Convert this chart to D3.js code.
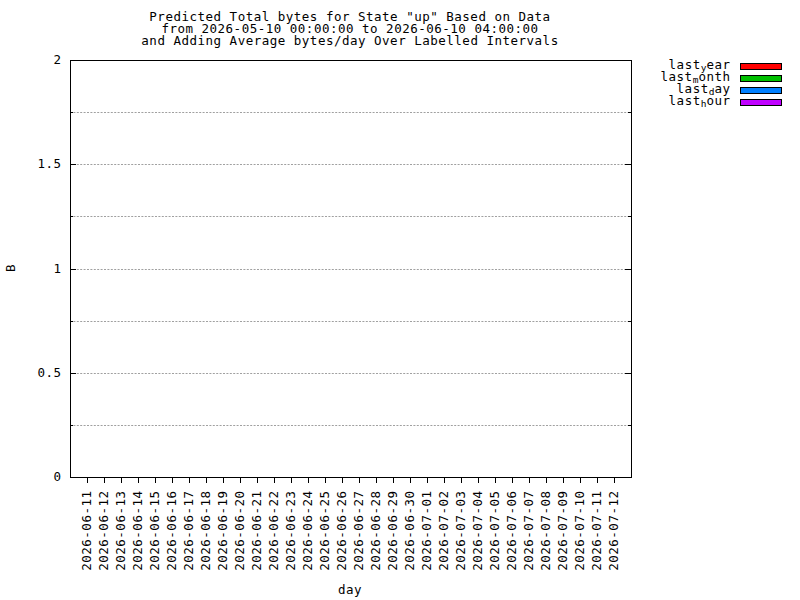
<!DOCTYPE html>
<html>
<head>
<meta charset="utf-8">
<script src="https://cdn.jsdelivr.net/npm/d3@7"></script>
<style>
  body { margin: 0; background: #fff; }
  svg text { font-family: "DejaVu Sans Mono", "Liberation Mono", monospace; font-size: 12.5px; letter-spacing: 0.5px; fill: #000; }
</style>
</head>
<body>
<svg id="chart" width="800" height="600"></svg>
<script>
// ---- data ----
const titleLines = [
  'Predicted Total bytes for State "up" Based on Data',
  'from 2026-05-10 00:00:00 to 2026-06-10 04:00:00',
  'and Adding Average bytes/day Over Labelled Intervals'
];
const xAxisLabel = "day";
const yAxisLabel = "B";
const xDomain = ["2026-06-10", "2026-07-13"];
const dayTicks = [
  "2026-06-11", "2026-06-12", "2026-06-13", "2026-06-14", "2026-06-15", "2026-06-16",
  "2026-06-17", "2026-06-18", "2026-06-19", "2026-06-20", "2026-06-21", "2026-06-22",
  "2026-06-23", "2026-06-24", "2026-06-25", "2026-06-26", "2026-06-27", "2026-06-28",
  "2026-06-29", "2026-06-30", "2026-07-01", "2026-07-02", "2026-07-03", "2026-07-04",
  "2026-07-05", "2026-07-06", "2026-07-07", "2026-07-08", "2026-07-09", "2026-07-10",
  "2026-07-11", "2026-07-12"
];
const yDomain = [0, 2];
const yMajorTicks = [0, 0.5, 1, 1.5, 2];
const yMinorTicks = [0.25, 0.75, 1.25, 1.75];
const yTickLabels = ["0", "0.5", "1", "1.5", "2"];
// legend entries: [prefix, subscript, suffix]
const seriesNames = [
  ["last", "y", "ear"],
  ["last", "m", "onth"],
  ["last", "d", "ay"],
  ["last", "h", "our"]
];
const seriesColors = ["#ff0000", "#00c000", "#0080ff", "#c000ff"];
// series values (no data points visible in the chart)
const lastYear = [];
const lastMonth = [];
const lastDay = [];
const lastHour = [];

(function () {
// ---- layout ----
const svg = d3.select("#chart");
const pl = 70, pr = 631, pt = 60, pb = 477;
const parse = d3.utcParse("%Y-%m-%d");

const x = d3.scaleUtc().domain(xDomain.map(parse)).range([pl, pr]);
const y = d3.scaleLinear().domain(yDomain).range([pb, pt]);

// grid lines (every 0.25, interior)
const gridVals = yMajorTicks.concat(yMinorTicks).filter(v => v > yDomain[0] && v < yDomain[1]);
svg.append("g").selectAll("line").data(gridVals).join("line")
  .attr("x1", pl).attr("x2", pr)
  .attr("y1", d => Math.round(y(d)) + 0.5).attr("y2", d => Math.round(y(d)) + 0.5)
  .attr("stroke", "#a0a0a0").attr("stroke-width", 1)
  .attr("stroke-dasharray", "2,1.4");

// series bars (none visible)
const allSeries = [lastYear, lastMonth, lastDay, lastHour];
allSeries.forEach((s, i) => {
  svg.append("g").selectAll("rect").data(s).join("rect")
    .attr("x", d => x(parse(d.day)) - 3).attr("width", 6)
    .attr("y", d => y(d.value)).attr("height", d => y(0) - y(d.value))
    .attr("fill", seriesColors[i]);
});

// y ticks left & right (inward)
const tickG = svg.append("g").attr("stroke", "#000").attr("stroke-width", 1).attr("shape-rendering", "crispEdges");
const yTickData = yMajorTicks.map(v => ({v, len: 6})).concat(yMinorTicks.map(v => ({v, len: 3})));
tickG.selectAll("line.yl").data(yTickData).join("line").attr("class", "yl")
  .attr("x1", pl).attr("x2", d => pl + d.len)
  .attr("y1", d => Math.round(y(d.v)) + 0.5).attr("y2", d => Math.round(y(d.v)) + 0.5);
tickG.selectAll("line.yr").data(yTickData).join("line").attr("class", "yr")
  .attr("x1", pr).attr("x2", d => pr - d.len)
  .attr("y1", d => Math.round(y(d.v)) + 0.5).attr("y2", d => Math.round(y(d.v)) + 0.5);

// x ticks (outward, below)
tickG.selectAll("line.xb").data(dayTicks).join("line").attr("class", "xb")
  .attr("x1", d => Math.round(x(parse(d))) + 0.5).attr("x2", d => Math.round(x(parse(d))) + 0.5)
  .attr("y1", pb).attr("y2", pb + 6);

// border
svg.append("rect")
  .attr("x", pl + 0.5).attr("y", pt + 0.5)
  .attr("width", pr - pl).attr("height", pb - pt)
  .attr("fill", "none").attr("stroke", "#000").attr("stroke-width", 1)
  .attr("shape-rendering", "crispEdges");

// y tick labels
svg.append("g").selectAll("text").data(yMajorTicks).join("text")
  .attr("x", 61.5).attr("y", d => y(d) + 4)
  .attr("text-anchor", "end")
  .text((d, i) => yTickLabels[i]);

// x tick labels (rotated)
svg.append("g").selectAll("text").data(dayTicks).join("text")
  .attr("transform", d => `translate(${Math.round(x(parse(d))) + 4},490.5) rotate(-90)`)
  .attr("text-anchor", "end")
  .text(d => d);

// title
svg.append("g").selectAll("text").data(titleLines).join("text")
  .attr("x", 350).attr("y", (d, i) => 21 + i * 12)
  .attr("text-anchor", "middle")
  .text(d => d);

// axis labels
svg.append("text").attr("x", 350).attr("y", 594).attr("text-anchor", "middle").text(xAxisLabel);
svg.append("text").attr("transform", "translate(15,268) rotate(-90)").attr("text-anchor", "middle").text(yAxisLabel);

// legend
const lg = svg.append("g");
seriesNames.forEach((n, i) => {
  const yy = 63 + i * 12;
  const t = lg.append("text").attr("x", 730.5).attr("y", yy + 5.5).attr("text-anchor", "end");
  t.append("tspan").text(n[0]);
  t.append("tspan").attr("dy", 2.5).style("font-size", "9.5px").style("letter-spacing", "0px").text(n[1]);
  t.append("tspan").attr("dy", -2.5).text(n[2]);
  lg.append("rect")
    .attr("x", 740.5).attr("y", yy + 0.5).attr("width", 41).attr("height", 6)
    .attr("fill", seriesColors[i]).attr("stroke", "#000").attr("stroke-width", 1)
    .attr("shape-rendering", "crispEdges");
});
})();
</script>
</body>
</html>
